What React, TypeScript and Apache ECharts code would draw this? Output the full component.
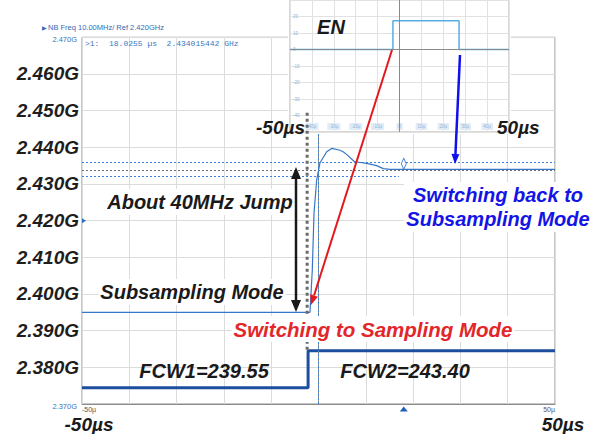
import React, { useEffect, useRef } from "react";
import * as echarts from "echarts";

// ---- data (time in µs, frequency in MHz) ----
const traceTime = [-50, -1.8, -1.31, -0.95, -0.38, 0.32, 1.73, 2.79, 4.55, 5.2, 6.0, 7.5, 8.1, 10.2, 12.3, 13.7, 15.1, 50];
const traceFreq = [2395.0, 2395.0, 2406.6, 2422.1, 2431.1, 2435.8, 2438.8, 2439.7, 2439.2, 2438.8, 2438.0, 2436.2, 2436.0, 2435.6, 2435.0, 2434.2, 2434.0, 2434.0];

const fcwTime = [-50, -2.2, -2.2, 50];
const fcwValue = [239.55, 239.55, 243.4, 243.4];

const enTime = [-50, -3.0, -3.0, 27.2, 27.2, 50];
const enLevel = [0, 0, 1.74, 1.74, 0, 0];

const markerTime = 18.0255;
const refFreq = 2420;
const cursorTime = -2.4;
const cursorSpan = [2449.4, 2384.5];
const dottedLevels = [2435.8, 2433.8, 2432.2];

const FONT = '"Liberation Sans", Arial, sans-serif';

function arrowHead(tip: number[], from: number[], len: number, half: number) {
  const dx = tip[0] - from[0];
  const dy = tip[1] - from[1];
  const d = Math.hypot(dx, dy);
  const ux = dx / d, uy = dy / d;
  const bx = tip[0] - ux * len, by = tip[1] - uy * len;
  return {
    points: [[tip[0], tip[1]], [bx - uy * half, by + ux * half], [bx + uy * half, by - ux * half]],
    base: [bx, by],
  };
}

function arrow(from: number[], to: number[], color: string, width: number, len: number, half: number, both = false) {
  const h1 = arrowHead(to, from, len, half);
  const els: any[] = [];
  let start = from;
  if (both) {
    const h0 = arrowHead(from, to, len, half);
    start = h0.base;
    els.push({ type: "polygon", shape: { points: h0.points }, style: { fill: color }, z: 20 });
  }
  els.push({ type: "line", shape: { x1: start[0], y1: start[1], x2: h1.base[0], y2: h1.base[1] }, style: { stroke: color, lineWidth: width }, z: 20 });
  els.push({ type: "polygon", shape: { points: h1.points }, style: { fill: color }, z: 20 });
  return els;
}

function bigText(text: string, x: number, y: number, color: string, align: string, bg = true, size = 20) {
  return {
    type: "text",
    x,
    y,
    z: 18,
    style: {
      text,
      fill: color,
      fontFamily: FONT,
      fontStyle: "italic",
      fontWeight: "bold",
      fontSize: size,
      align,
      verticalAlign: "middle",
      backgroundColor: bg ? "#ffffff" : undefined,
      padding: bg ? [1, 2] : 0,
      lineHeight: 24,
    },
  };
}

export default function App() {
  const ref = useRef<HTMLDivElement>(null);
  useEffect(() => {
    if (!ref.current) return;
    const chart = echarts.init(ref.current, null, { renderer: "svg" });

    const traceData = traceTime.map((t, i) => [t, traceFreq[i]]);
    const fcwData = fcwTime.map((t, i) => [t, fcwValue[i]]);
    const enData = enTime.map((t, i) => [t, enLevel[i]]);

    const graphic: any[] = [
      { type: "rect", shape: { x: 288, y: 0, width: 223, height: 134 }, style: { fill: "#ffffff" }, z: 1 },
      { type: "text", x: 42, y: 27, z: 18, style: { text: "▶", fontSize: 6, fill: "#2f6cb5", fontFamily: "DejaVu Sans", verticalAlign: "middle" } },
      { type: "text", x: 48, y: 27, z: 18, style: { text: "NB Freq 10.00MHz/ Ref 2.420GHz", fontSize: 7.5, fill: "#2f6cb5", fontFamily: FONT, verticalAlign: "middle" } },
      { type: "text", x: 85, y: 43, z: 18, style: { text: ">1:  18.0255 µs  2.434015442 GHz", fontSize: 8, fill: "#3a78c0", fontFamily: '"Liberation Mono", "DejaVu Sans Mono", monospace', verticalAlign: "middle" } },
      bigText("EN", 331, 27, "#1a1a1a", "center", false),
      bigText("-50µs", 305, 127, "#1a1a1a", "right", false, 19),
      bigText("50µs", 497, 127, "#1a1a1a", "left", false, 19),
      bigText("About 40MHz Jump", 200, 202, "#1a1a1a", "center"),
      bigText("Subsampling Mode", 192, 292, "#1a1a1a", "center"),
      bigText("Switching to Sampling Mode", 373, 329, "#e3262a", "center", true, 20.5),
      bigText("Switching back to\nSubsampling Mode", 498, 207, "#1414e6", "center"),
      bigText("FCW1=239.55", 204, 371, "#1a1a1a", "center", false),
      bigText("FCW2=243.40", 405, 371, "#1a1a1a", "center", false),
      bigText("-50µs", 89, 424, "#1a1a1a", "center", false, 19),
      bigText("50µs", 563, 424, "#1a1a1a", "center", false, 19),
      ...arrow([392, 50], [311, 305], "#e3191f", 2, 10, 4),
      ...arrow([460, 55], [455, 164], "#1010ee", 2.5, 10, 4),
      ...arrow([296, 167], [296, 312], "#1a1a1a", 2.5, 12, 5, true),
    ];

    const option: any = {
      animation: false,
      backgroundColor: "#ffffff",
      grid: [
        { left: 82, top: 37.3, width: 473, height: 366.7, show: true, borderColor: "#8c8c8c", borderWidth: 1, z: 0 },
        { left: 290, top: -5, width: 219, height: 137, show: true, borderColor: "#b0b0b0", borderWidth: 1, z: 2 },
      ],
      xAxis: [
        {
          type: "value", gridIndex: 0, min: -50, max: 50, interval: 10,
          axisLine: { show: true, lineStyle: { color: "#8c8c8c" } },
          axisTick: { show: false },
          splitLine: { show: true, lineStyle: { color: "#dcdcdc" } },
          axisLabel: {
            formatter: (v: number) => (v === -50 ? "-50µ" : v === 50 ? "50µ" : ""),
            fontSize: 7, color: "#555", margin: 2, fontFamily: FONT,
            alignMinLabel: "left", alignMaxLabel: "right",
          },
        },
        {
          type: "value", gridIndex: 1, min: -50, max: 50, interval: 10, z: 2,
          axisLine: { show: false }, axisTick: { show: false },
          splitLine: { show: true, lineStyle: { color: "#e2e2e2" } },
          axisLabel: {
            inside: true, margin: 2, fontSize: 4.5, color: "#8fb3d8", backgroundColor: "#e2ecf7", padding: [1, 2],
            showMinLabel: false, showMaxLabel: false,
            formatter: (v: number) => (v === 0 ? "0" : v + "µ"),
          },
        },
      ],
      yAxis: [
        {
          type: "value", gridIndex: 0, min: 2370, max: 2470, interval: 10,
          axisLine: { show: true, lineStyle: { color: "#8c8c8c" } },
          axisTick: { show: false },
          splitLine: { show: true, lineStyle: { color: "#dcdcdc" } },
          axisLabel: {
            margin: 3,
            formatter: (v: number) => {
              const s = (v / 1000).toFixed(3) + "G";
              return v === 2370 || v === 2470 ? "{s|" + s + "}" : "{b|" + s + "}";
            },
            rich: {
              b: { fontFamily: FONT, fontStyle: "italic", fontWeight: "bold", fontSize: 19, color: "#1e1e1e" },
              s: { fontFamily: FONT, fontSize: 7.5, color: "#3a74bd", padding: [4, 2, 0, 0] },
            },
          },
        },
        { type: "value", gridIndex: 0, min: 237.85, max: 276.0, show: false },
        {
          type: "value", gridIndex: 1, min: -5, max: 3, interval: 1, z: 2,
          axisLine: { show: false }, axisTick: { show: false },
          splitLine: { show: true, lineStyle: { color: "#e2e2e2" } },
          axisLabel: {
            inside: true, margin: 3, fontSize: 4.5, color: "#8fb3d8",
            showMinLabel: false, showMaxLabel: false,
            formatter: (v: number) => String(v * 10),
          },
        },
      ],
      graphic: { elements: graphic },
      series: [
        {
          name: "Frequency", type: "line", xAxisIndex: 0, yAxisIndex: 0, data: traceData,
          showSymbol: false, symbol: "none", z: 3,
          lineStyle: { color: "#3576c8", width: 1.2 },
          markLine: {
            silent: true, symbol: "none", label: { show: false },
            data: [
              { yAxis: dottedLevels[0], lineStyle: { color: "#3d82d4", type: [2, 2], width: 1 } },
              { yAxis: dottedLevels[1], lineStyle: { color: "#6f6f6f", type: [2, 2], width: 1 } },
              [
                { coord: [-50, dottedLevels[2]], lineStyle: { color: "#3d82d4", type: [2, 2], width: 1 } },
                { coord: [markerTime - 1, dottedLevels[2]] },
              ],
              [
                { coord: [0, 2370], lineStyle: { color: "#3d82d4", type: [2, 2], width: 1 } },
                { coord: [0, 2443.9] },
              ],
            ],
          },
          markPoint: {
            silent: true, label: { show: false },
            data: [
              { coord: [markerTime, 2435.5], symbol: "diamond", symbolSize: [5, 11], itemStyle: { color: "#ffffff", borderColor: "#3d82d4", borderWidth: 1 } },
              { coord: [markerTime, 2370], symbol: "triangle", symbolSize: [8, 5], symbolOffset: [0, 5], itemStyle: { color: "#1f5fb8" } },
              { coord: [-50, refFreq], symbol: "triangle", symbolRotate: -90, symbolSize: [5, 4], symbolOffset: [2, 0], itemStyle: { color: "#2f6fc4" } },
            ],
          },
        },
        {
          name: "FCW", type: "line", xAxisIndex: 0, yAxisIndex: 1, data: fcwData,
          showSymbol: false, symbol: "none", z: 3,
          lineStyle: { color: "#1d4f9e", width: 3 },
        },
        {
          name: "Cursor", type: "line", xAxisIndex: 0, yAxisIndex: 0,
          data: [[cursorTime, cursorSpan[0]], [cursorTime, cursorSpan[1]]],
          showSymbol: false, symbol: "none", z: 10,
          lineStyle: { color: "#6a6a6a", width: 3, type: [3, 3] },
        },
        {
          name: "EN", type: "line", xAxisIndex: 1, yAxisIndex: 2, data: enData,
          showSymbol: false, symbol: "none", z: 4,
          lineStyle: { color: "#56aee3", width: 1.5 },
          markLine: {
            silent: true, symbol: "none", label: { show: false },
            lineStyle: { color: "#8a8a8a", type: "solid", width: 1 },
            data: [{ yAxis: 0 }, { xAxis: 0 }],
          },
        },
      ],
    };
    chart.setOption(option);
    return () => chart.dispose();
  }, []);
  return <div ref={ref} style={{ position: "absolute", left: 0, top: 0, width: 602, height: 434 }} />;
}
